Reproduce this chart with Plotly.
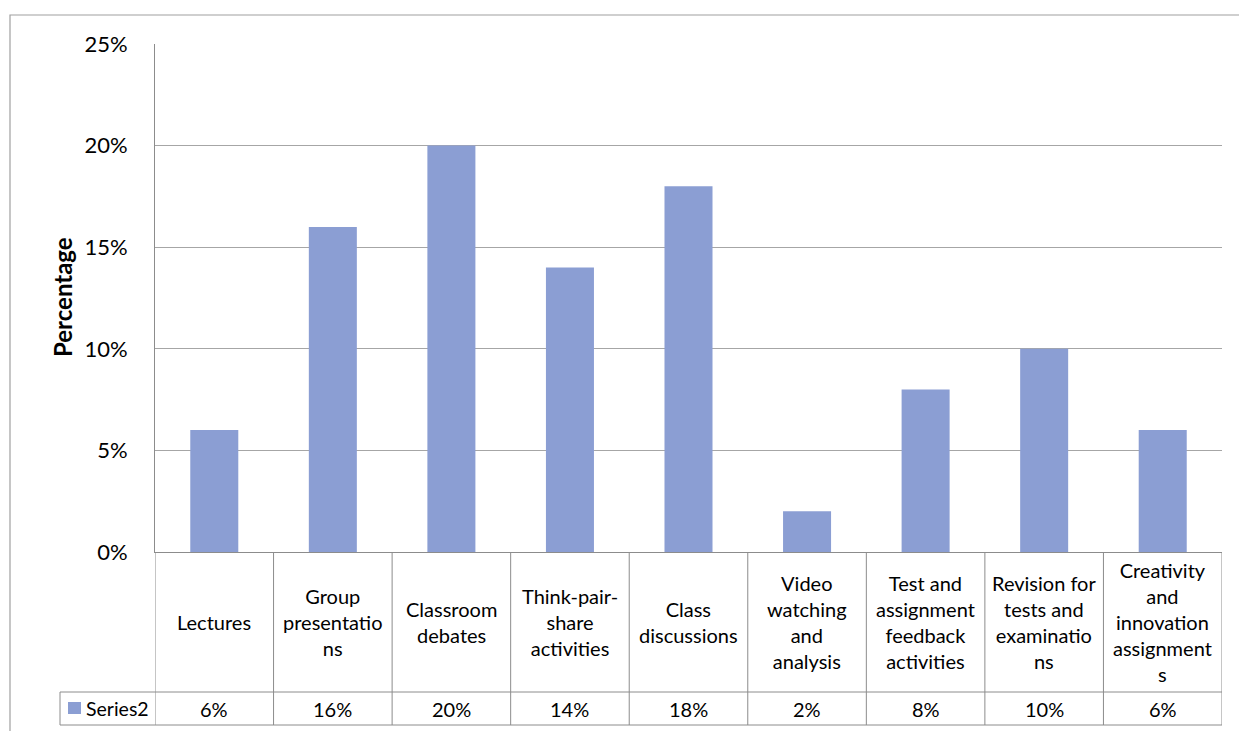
import plotly.graph_objects as go

categories = ["Lectures", "Group presentations", "Classroom debates",
              "Think-pair-share activities", "Class discussions",
              "Video watching and analysis", "Test and assignment feedback activities",
              "Revision for tests and examinations", "Creativity and innovation assignments"]
category_labels = ["Lectures", "Group<br>presentatio<br>ns", "Classroom<br>debates",
                   "Think-pair-<br>share<br>activities", "Class<br>discussions",
                   "Video<br>watching<br>and<br>analysis",
                   "Test and<br>assignment<br>feedback<br>activities",
                   "Revision for<br>tests and<br>examinatio<br>ns",
                   "Creativity<br>and<br>innovation<br>assignment<br>s"]
values_pct = [6, 16, 20, 14, 18, 2, 8, 10, 6]
series_name = "Series2"
y_ticks = [0, 0.05, 0.10, 0.15, 0.20, 0.25]

W, H = 1239, 731
L, R, T, B = 155, 1222, 44, 552
PW, PH = R - L, B - T


def xp(px):
    return (px - L) / PW


def yp(py):
    return (B - py) / PH


FONT = "Lato"
BAR = "#8B9ED3"
LINE = "#8C8C8C"
GRID = "#A6A6A6"
TABLE_FONT = 20

fig = go.Figure()
fig.add_trace(go.Bar(
    x=categories, y=[v / 100 for v in values_pct], name=series_name,
    marker=dict(color=BAR, line=dict(width=0)), showlegend=False,
))

shapes = []
annotations = []

# outer chart border
shapes.append(dict(type="rect", xref="paper", yref="paper",
                   x0=xp(10), x1=xp(1250), y0=yp(745), y1=yp(15),
                   line=dict(color="#A0A0A0", width=1.2), fillcolor="rgba(0,0,0,0)"))

row1_bottom = 692
row2_bottom = 725
n = len(categories)
# table vertical lines at category boundaries
for i in range(n + 1):
    shapes.append(dict(type="line", xref="x", yref="paper",
                       x0=i - 0.5, x1=i - 0.5, y0=yp(B), y1=yp(row2_bottom),
                       line=dict(color=LINE, width=1)))
# horizontal lines
shapes.append(dict(type="line", xref="paper", yref="paper",
                   x0=xp(60), x1=1, y0=yp(row1_bottom), y1=yp(row1_bottom),
                   line=dict(color=LINE, width=1)))
shapes.append(dict(type="line", xref="paper", yref="paper",
                   x0=xp(60), x1=1, y0=yp(row2_bottom), y1=yp(row2_bottom),
                   line=dict(color=LINE, width=1)))
shapes.append(dict(type="line", xref="paper", yref="paper",
                   x0=xp(60), x1=xp(60), y0=yp(row1_bottom), y1=yp(row2_bottom),
                   line=dict(color=LINE, width=1)))
# legend key square
shapes.append(dict(type="rect", xref="paper", yref="paper",
                   x0=xp(68), x1=xp(81), y0=yp(714), y1=yp(702),
                   line=dict(width=0), fillcolor=BAR))

row1_mid = (B + row1_bottom) / 2
row2_mid = (row1_bottom + row2_bottom) / 2
for cat, lab, v in zip(categories, category_labels, values_pct):
    annotations.append(dict(x=cat, xref="x", y=yp(row1_mid), yref="paper",
                            text=lab, showarrow=False, align="center",
                            xanchor="center", yanchor="middle",
                            font=dict(family=FONT, size=TABLE_FONT, color="#000000")))
    annotations.append(dict(x=cat, xref="x", y=yp(row2_mid), yref="paper",
                            text=f"{v}%", showarrow=False,
                            xanchor="center", yanchor="middle",
                            font=dict(family=FONT, size=TABLE_FONT, color="#000000")))
annotations.append(dict(x=xp(84), xref="paper", y=yp(row2_mid), yref="paper",
                        text=series_name, showarrow=False, xanchor="left",
                        yanchor="middle",
                        font=dict(family=FONT, size=19.5, color="#000000")))
annotations.append(dict(x=xp(62), xref="paper", y=yp(297), yref="paper",
                        text="<b>Percentage</b>", showarrow=False, textangle=-90,
                        xanchor="center", yanchor="middle",
                        font=dict(family=FONT, size=24, color="#000000")))

fig.update_layout(
    width=W, height=H,
    margin=dict(l=L, r=W - R, t=T, b=H - B, pad=0),
    paper_bgcolor="white", plot_bgcolor="white",
    bargap=0.595,
    shapes=shapes, annotations=annotations,
    xaxis=dict(type="category", range=[-0.5, n - 0.5], showticklabels=False,
               showgrid=False, showline=True, linecolor=LINE, linewidth=1,
               ticks="", zeroline=False, fixedrange=True),
    yaxis=dict(range=[0, 0.25], tickvals=y_ticks, tickformat=".0%",
               showgrid=True, gridcolor=GRID, gridwidth=1,
               showline=True, linecolor=LINE, linewidth=1, ticks="",
               ticklabelstandoff=22, zeroline=False,
               tickfont=dict(family=FONT, size=22, color="#000000")),
)

fig.write_html("out.html")
